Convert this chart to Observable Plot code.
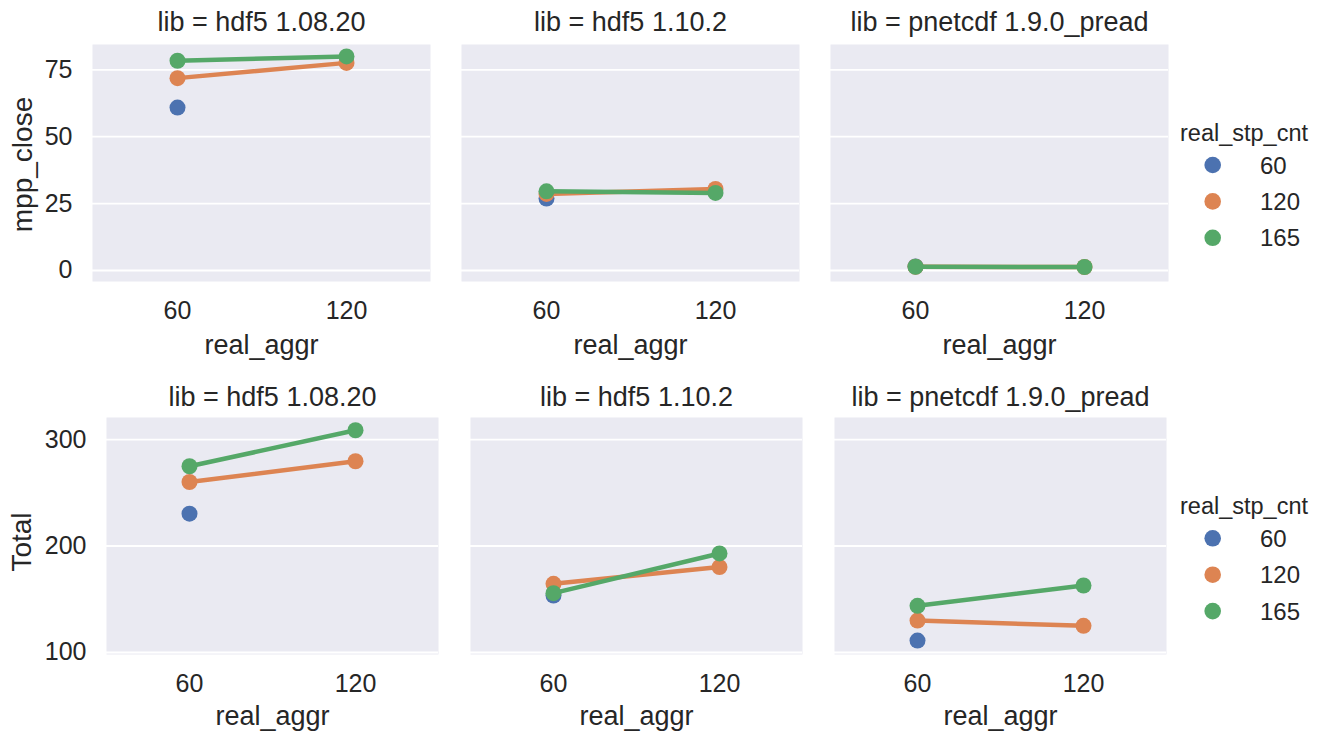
<!DOCTYPE html>
<html>
<head>
<meta charset="utf-8">
<script src="https://cdn.jsdelivr.net/npm/d3@7"></script>
<script src="https://cdn.jsdelivr.net/npm/@observablehq/plot@0.6"></script>
<style>
  html, body { margin: 0; padding: 0; background: #ffffff; }
  #chart { position: relative; width: 1327px; height: 736px; overflow: hidden;
           font-family: "Liberation Sans", Arial, sans-serif; color: #262626; }
  #chart svg { display: block; }
  .row { position: absolute; left: 0; }
  .overlay { position: absolute; left: 0; top: 0; pointer-events: none; }
</style>
</head>
<body>
<div id="chart"></div>
<script>
// Facets, categories and hue levels
const libs = ["hdf5 1.08.20", "hdf5 1.10.2", "pnetcdf 1.9.0_pread"];
const aggrLevels = [60, 120];
const stpLevels = [60, 120, 165];
const palette = ["#4c72b0", "#dd8452", "#55a868"];

// mpp_close, one pair per lib: [real_aggr 60, real_aggr 120]
const mppCloseStp60  = [[60.9, null], [26.9, null], [1.5, null]];
const mppCloseStp120 = [[71.9, 77.6], [28.6, 30.5], [1.4, 1.3]];
const mppCloseStp165 = [[78.4, 80.0], [29.6, 29.0], [1.4, 1.3]];

// Total, one pair per lib: [real_aggr 60, real_aggr 120]
const totalStp60  = [[230.4, null], [153.5, null], [111.2, null]];
const totalStp120 = [[260.1, 279.6], [164.5, 180.2], [130.0, 125.0]];
const totalStp165 = [[274.9, 308.7], [155.7, 193.0], [143.8, 162.9]];

const mppTicks = [0, 25, 50, 75];
const totalTicks = [100, 200, 300];

const FONT = '"Liberation Sans", Arial, sans-serif';
const INK = "#262626";

// Flatten the per-hue arrays into one row per point
function tidy(series) {
  const rows = [];
  series.forEach((byLib, s) => byLib.forEach((vals, i) => vals.forEach((v, j) => {
    if (v != null) rows.push({lib: libs[i], aggr: aggrLevels[j], stp: stpLevels[s], value: v});
  })));
  return rows;
}

function facetRow(o) {
  const rows = tidy(o.series);
  const marks = [
    Plot.frame({fill: "#eaeaf2", stroke: null}),
    Plot.gridY({ticks: o.ticks, stroke: "#ffffff", strokeOpacity: 1, strokeWidth: 1.8}),
    Plot.axisY({ticks: o.ticks, tickSize: 0, tickPadding: 20, fontSize: 25, label: null}),
    Plot.axisX({tickSize: 0, tickPadding: 20, fontSize: 25, label: null}),
    Plot.text(libs, {fx: d => d, text: d => `lib = ${d}`, frameAnchor: "top",
      lineAnchor: "middle", dy: o.titleDy, fontSize: 27, fill: INK}),
    Plot.text(libs, {fx: d => d, text: () => "real_aggr", frameAnchor: "bottom",
      lineAnchor: "bottom", dy: o.xLabelDy, fontSize: 27, fill: INK}),
    Plot.text([o.yLabel], {fx: () => libs[0], text: d => d, frameAnchor: "left", rotate: -90,
      textAnchor: "middle", lineAnchor: "bottom", dx: 30.7 - o.marginLeft, dy: o.yLabelDy,
      fontSize: 28, fill: INK})
  ];
  // one line + dots per hue level, drawn in hue order
  for (const s of stpLevels) {
    const sub = rows.filter(d => d.stp === s);
    marks.push(Plot.lineY(sub, {fx: "lib", x: "aggr", y: "value", stroke: "stp", strokeWidth: 4.5}));
    marks.push(Plot.dot(sub, {fx: "lib", x: "aggr", y: "value", fill: "stp", r: 8}));
  }
  return Plot.plot({
    width: 1180,
    height: o.height,
    marginTop: o.marginTop,
    marginBottom: o.marginBottom,
    marginLeft: o.marginLeft,
    marginRight: o.marginRight,
    style: {fontFamily: FONT, color: INK, background: "transparent", overflow: "visible"},
    fx: {domain: libs, paddingInner: o.paddingInner, paddingOuter: 0, axis: null, label: null},
    x: {type: "point", domain: aggrLevels, padding: 0.5, label: null},
    y: {domain: o.yDomain, label: null},
    color: {domain: stpLevels, range: palette},
    marks
  });
}

const chart = document.getElementById("chart");

function place(node, top) {
  const wrap = document.createElement("div");
  wrap.className = "row";
  wrap.style.top = top + "px";
  wrap.appendChild(node);
  chart.appendChild(wrap);
}

place(facetRow({
  series: [mppCloseStp60, mppCloseStp120, mppCloseStp165],
  ticks: mppTicks, yDomain: [-4.12, 84.47], yLabel: "mpp_close",
  height: 361, marginTop: 44, marginBottom: 80, marginLeft: 91, marginRight: 12,
  paddingInner: 0.0853, titleDy: -22, xLabelDy: 72, yLabelDy: 1.5
}), 0);

place(facetRow({
  series: [totalStp60, totalStp120, totalStp165],
  ticks: totalTicks, yDomain: [98.1, 320.7], yLabel: "Total",
  height: 375, marginTop: 56, marginBottom: 82, marginLeft: 106, marginRight: 13,
  paddingInner: 0.0872, titleDy: -20, xLabelDy: 70, yLabelDy: 6
}), 361);

// Hue legends to the right of each row
const overlay = d3.create("svg")
  .attr("class", "overlay")
  .attr("width", 1327).attr("height", 736)
  .style("font-family", FONT);

function legend(baseline) {
  const g = overlay.append("g");
  g.append("text").attr("x", 1180).attr("y", baseline)
    .attr("font-size", 23.5).attr("fill", INK).text("real_stp_cnt");
  stpLevels.forEach((s, k) => {
    const cy = baseline + 24.3 + k * 36.4;
    g.append("circle").attr("cx", 1212.7).attr("cy", cy).attr("r", 8.3).attr("fill", palette[k]);
    g.append("text").attr("x", 1260).attr("y", cy + 8.6)
      .attr("font-size", 24).attr("fill", INK).text(String(s));
  });
}
legend(140.7);
legend(514);
chart.appendChild(overlay.node());
</script>
</body>
</html>
